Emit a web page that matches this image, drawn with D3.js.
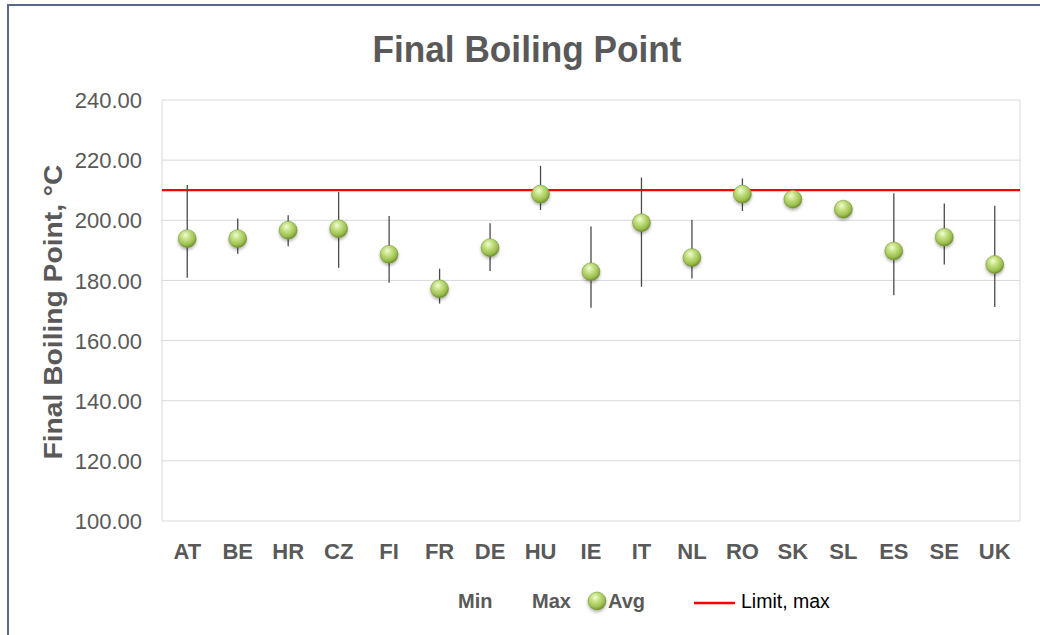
<!DOCTYPE html>
<html>
<head>
<meta charset="utf-8">
<script src="https://cdn.jsdelivr.net/npm/d3@7"></script>
<style>
  html, body { margin: 0; padding: 0; background: #fff; }
  svg { display: block; font-family: "Liberation Sans", Arial, sans-serif; }
</style>
</head>
<body>
<svg id="chart" width="1040" height="635"></svg>
<script>
const categories = ["AT","BE","HR","CZ","FI","FR","DE","HU","IE","IT","NL","RO","SK","SL","ES","SE","UK"];
const avgValues  = [193.9,193.9,196.7,197.2,188.7,177.2,190.9,208.7,182.9,199.2,187.6,208.7,207.0,203.7,189.8,194.4,185.3];
const minValues  = [180.9,188.9,191.4,184.2,179.2,172.3,183.1,203.4,170.9,177.9,180.6,203.1,206.0,202.8,175.1,185.3,171.2];
const maxValues  = [211.7,200.6,201.7,209.4,201.4,183.9,199.0,218.1,197.9,214.2,200.1,213.9,208.0,204.6,209.0,205.6,204.8];
const limitMax   = 210;
const yTicks     = [100,120,140,160,180,200,220,240];
const legendLabels = ["Min","Max","Avg","Limit, max"];

(function () {
const svg = d3.select("#chart");
const defs = svg.append("defs");

const grad = defs.append("radialGradient").attr("id","ball")
  .attr("cx","42%").attr("cy","36%").attr("r","66%").attr("fx","40%").attr("fy","30%");
grad.append("stop").attr("offset","0%").attr("stop-color","#f3fbd6");
grad.append("stop").attr("offset","35%").attr("stop-color","#c6e285");
grad.append("stop").attr("offset","75%").attr("stop-color","#9dc050");
grad.append("stop").attr("offset","100%").attr("stop-color","#6a8b2a");

const filt = defs.append("filter").attr("id","shadow").attr("x","-50%").attr("y","-50%").attr("width","200%").attr("height","200%");
filt.append("feDropShadow").attr("dx",0).attr("dy",2).attr("stdDeviation",1.6).attr("flood-color","#000").attr("flood-opacity",0.3);

// outer frame
svg.append("rect").attr("x",8).attr("y",5).attr("width",1100).attr("height",700)
  .attr("fill","none").attr("stroke","#5a6a84").attr("stroke-width",2);

const pLeft = 162, pRight = 1020, pTop = 100, pBottom = 521;
const x = d3.scaleBand().domain(categories).range([pLeft, pRight]).padding(0);
const y = d3.scaleLinear().domain([100, 240]).range([pBottom, pTop]);

// gridlines
svg.append("g").selectAll("line").data(yTicks).join("line")
  .attr("x1", pLeft).attr("x2", pRight)
  .attr("y1", d => y(d)).attr("y2", d => y(d))
  .attr("stroke", "#d9d9d9").attr("stroke-width", 1);
svg.append("line").attr("x1",pLeft).attr("x2",pLeft).attr("y1",pTop).attr("y2",pBottom).attr("stroke","#d9d9d9");
svg.append("line").attr("x1",pRight).attr("x2",pRight).attr("y1",pTop).attr("y2",pBottom).attr("stroke","#d9d9d9");

// y axis
const yAxis = d3.axisLeft(y).tickValues(yTicks).tickFormat(d3.format(".2f")).tickSize(0).tickPadding(0);
const yg = svg.append("g").attr("transform", `translate(${pLeft - 20},0)`).call(yAxis);
yg.select(".domain").remove();
yg.selectAll("text").attr("font-size", 22).attr("fill", "#595959")
  .attr("font-family", "'Liberation Sans', Arial, sans-serif").attr("dy","0.35em");

// x axis
const xAxis = d3.axisBottom(x).tickSize(0).tickPadding(0);
const xg = svg.append("g").attr("transform", `translate(0,${pBottom})`).call(xAxis);
xg.select(".domain").remove();
xg.selectAll("text").attr("font-size", 22).attr("font-weight","bold").attr("fill", "#595959")
  .attr("font-family", "'Liberation Sans', Arial, sans-serif").attr("y", 38).attr("dy", 0);

// limit line
svg.append("line").attr("x1", pLeft).attr("x2", pRight)
  .attr("y1", y(limitMax)).attr("y2", y(limitMax))
  .attr("stroke", "#ff0000").attr("stroke-width", 2.2);

// error bars
svg.append("g").selectAll("line").data(categories).join("line")
  .attr("x1", d => x(d) + x.bandwidth()/2).attr("x2", d => x(d) + x.bandwidth()/2)
  .attr("y1", (d,i) => y(minValues[i])).attr("y2", (d,i) => y(maxValues[i]))
  .attr("stroke", "#4a4a4a").attr("stroke-width", 1.3);

// markers
svg.append("g").selectAll("circle").data(categories).join("circle")
  .attr("cx", d => x(d) + x.bandwidth()/2)
  .attr("cy", (d,i) => y(avgValues[i]))
  .attr("r", 9)
  .attr("fill", "url(#ball)")
  .attr("stroke", "#6f8d30").attr("stroke-width", 0.5)
  .attr("filter", "url(#shadow)");

// title
svg.append("text").attr("x", 527).attr("y", 62).attr("text-anchor","middle")
  .attr("font-size", 37).attr("font-weight","bold").attr("fill","#595959")
  .attr("textLength", 309).attr("lengthAdjust","spacingAndGlyphs")
  .text("Final Boiling Point");

// y axis title
svg.append("text").attr("transform","translate(62,312) rotate(-90)")
  .attr("text-anchor","middle").attr("font-size", 25).attr("font-weight","bold").attr("fill","#595959")
  .attr("textLength", 295).attr("lengthAdjust","spacingAndGlyphs")
  .text("Final Boiling Point, °C");

// legend
const lg = svg.append("g");
const ly = 608;
lg.append("text").attr("x", 458).attr("y", ly).attr("font-size", 20).attr("font-weight","bold").attr("fill","#595959").text(legendLabels[0]);
lg.append("text").attr("x", 532).attr("y", ly).attr("font-size", 20).attr("font-weight","bold").attr("fill","#595959").text(legendLabels[1]);
lg.append("circle").attr("cx", 597).attr("cy", 601).attr("r", 9).attr("fill","url(#ball)")
  .attr("stroke","#6f8d30").attr("stroke-width",0.5).attr("filter","url(#shadow)");
lg.append("text").attr("x", 608).attr("y", ly).attr("font-size", 20).attr("font-weight","bold").attr("fill","#595959").text(legendLabels[2]);
lg.append("line").attr("x1", 694).attr("x2", 735).attr("y1", 603).attr("y2", 603).attr("stroke","#ff0000").attr("stroke-width",2.5);
lg.append("text").attr("x", 741).attr("y", ly).attr("font-size", 19.5).attr("fill","#000").text(legendLabels[3]);
})();
</script>
</body>
</html>
